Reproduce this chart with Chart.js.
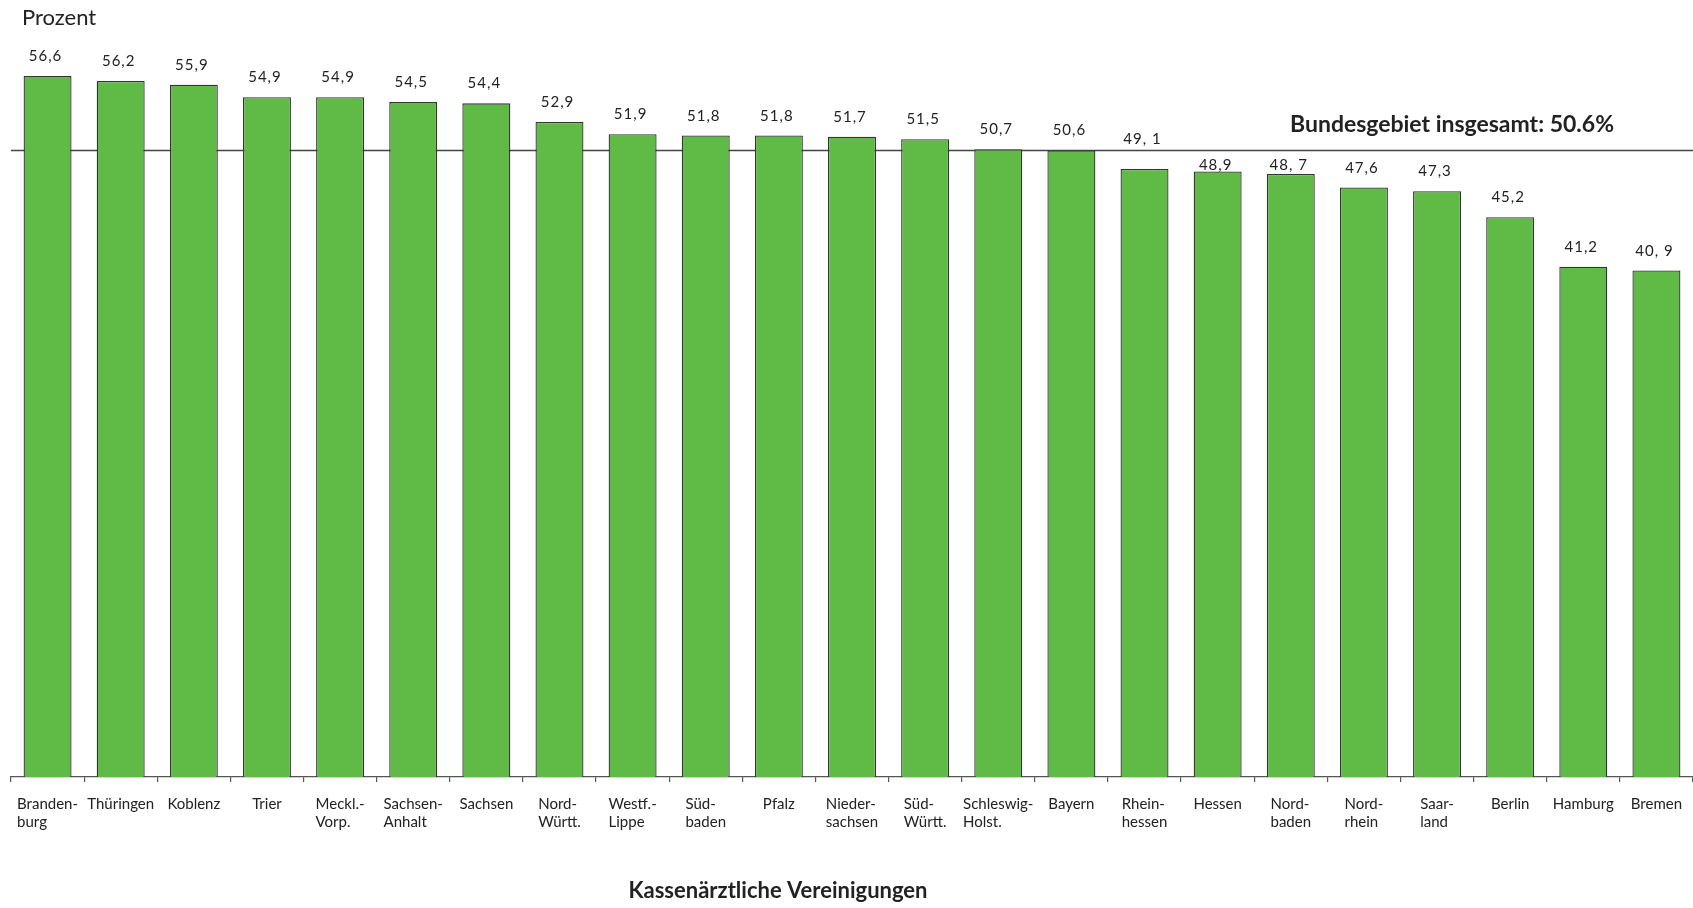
<!DOCTYPE html>
<html lang="de">
<head>
<meta charset="utf-8">
<title>Kassenärztliche Vereinigungen</title>
<script src="https://cdn.jsdelivr.net/npm/chart.js@4.4.1/dist/chart.umd.min.js"></script>
<style>
  html, body { margin: 0; padding: 0; background: #fff; }
  #chart { display: block; }
</style>
</head>
<body>
<canvas id="chart" width="1693" height="908"></canvas>
<script>
// Kassenärztliche Vereinigungen, Anteil in Prozent
const regions = [
  ["Branden-", "burg"], "Thüringen", "Koblenz", "Trier", ["Meckl.-", "Vorp."],
  ["Sachsen-", "Anhalt"], "Sachsen", ["Nord-", "Württ."], ["Westf.-", "Lippe"],
  ["Süd-", "baden"], "Pfalz", ["Nieder-", "sachsen"], ["Süd-", "Württ."],
  ["Schleswig-", "Holst."], "Bayern", ["Rhein-", "hessen"], "Hessen",
  ["Nord-", "baden"], ["Nord-", "rhein"], ["Saar-", "land"], "Berlin",
  "Hamburg", "Bremen"
];
const shares = [
  56.6, 56.2, 55.9, 54.9, 54.9, 54.5, 54.4, 52.9, 51.9, 51.8, 51.8, 51.7,
  51.5, 50.7, 50.6, 49.1, 48.9, 48.7, 47.6, 47.3, 45.2, 41.2, 40.9
];
const nationalShare = 50.6;
const yMin = 0;
const yMax = 60;

const FONT = "Lato, 'Open Sans', sans-serif";
const TEXT = "#222";

// a few value labels sit a bit off the usual spot
const labelNudge = { 15: -10, 16: 14, 17: 11 };
const spacedComma = new Set([15, 17, 22]);

function fmt(v, i) {
  const s = v.toFixed(1).replace(".", ",");
  return spacedComma.has(i) ? s.replace(",", ", ") : s;
}

const overlay = {
  id: "overlay",
  beforeDatasetsDraw(chart) {
    const { ctx, chartArea, scales } = chart;
    const yy = Math.round(scales.y.getPixelForValue(nationalShare)) + 0.5;
    ctx.save();
    ctx.strokeStyle = "#444";
    ctx.lineWidth = 1.3;
    ctx.beginPath();
    ctx.moveTo(chartArea.left, yy);
    ctx.lineTo(chartArea.right, yy);
    ctx.stroke();

    ctx.fillStyle = TEXT;
    ctx.font = "bold 23px " + FONT;
    ctx.textAlign = "right";
    ctx.textBaseline = "alphabetic";
    ctx.fillText("Bundesgebiet insgesamt: " + nationalShare.toFixed(1) + "%", chartArea.right - 79, yy - 18.5);
    ctx.restore();
  },
  afterDatasetsDraw(chart) {
    const { ctx, chartArea, scales } = chart;
    const meta = chart.getDatasetMeta(0);
    ctx.save();
    ctx.fillStyle = TEXT;
    ctx.textBaseline = "alphabetic";

    // value labels above the bars
    ctx.font = "15px " + FONT;
    ctx.letterSpacing = "1px";
    ctx.textAlign = "center";
    meta.data.forEach((bar, i) => {
      const dy = labelNudge[i] || 0;
      ctx.fillText(fmt(shares[i], i), bar.x - 2, bar.y - 15 + dy);
    });
    ctx.letterSpacing = "0px";

    // category labels, lines left aligned inside a centred block
    ctx.textAlign = "left";
    regions.forEach((lab, i) => {
      const lines = Array.isArray(lab) ? lab : [lab];
      const w = Math.max(...lines.map(l => ctx.measureText(l).width));
      const x0 = scales.x.getPixelForValue(i) - w / 2;
      lines.forEach((l, k) => {
        ctx.fillText(l, x0, chartArea.bottom + 32 + k * 17.5);
      });
    });

    // axis captions
    ctx.font = "22px " + FONT;
    ctx.fillText("Prozent", 22, 25);
    ctx.font = "bold 22px " + FONT;
    ctx.textAlign = "center";
    ctx.fillText("Kassenärztliche Vereinigungen", 778, 898);
    ctx.restore();
  }
};

const chart = document.querySelector("#chart");
const ctx = chart.getContext("2d");

new Chart(ctx, {
  type: "bar",
  data: {
    labels: regions,
    datasets: [
      {
        data: shares,
        backgroundColor: "#60bb46",
        borderColor: "#333",
        borderWidth: 1.3,
        barPercentage: 0.656,
        categoryPercentage: 1.0,
      },
    ],
  },
  options: {
    responsive: false,
    animation: false,
    layout: { padding: { top: 34, left: 11, right: 0, bottom: 0 } },
    plugins: {
      legend: { display: false },
      tooltip: { enabled: false },
    },
    scales: {
      x: {
        offset: true,
        grid: {
          offset: true,
          drawOnChartArea: false,
          drawTicks: true,
          tickLength: 5,
          color: "#555",
          lineWidth: 1.2,
        },
        border: { display: true, color: "#555", width: 1.3 },
        ticks: { display: false },
        afterFit(scale) {
          scale.height = 131;
        },
      },
      y: {
        display: false,
        min: yMin,
        max: yMax,
      },
    },
  },
  plugins: [overlay],
});
</script>
</body>
</html>
